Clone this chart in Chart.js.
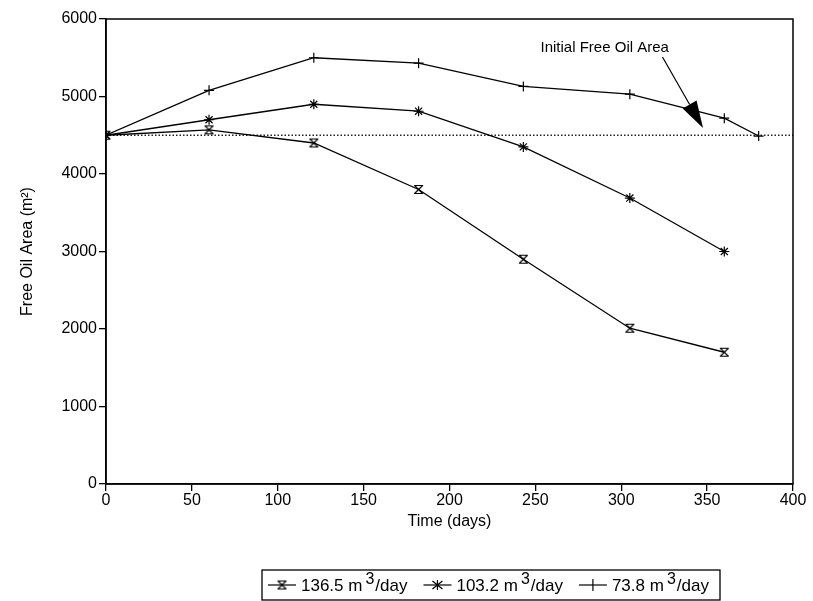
<!DOCTYPE html>
<html>
<head>
<meta charset="utf-8">
<script src="https://cdn.jsdelivr.net/npm/chart.js@4/dist/chart.umd.min.js"></script>
<style>
  html, body { margin: 0; padding: 0; background: #fff; }
  #wrap { width: 813px; height: 601px; }
</style>
</head>
<body>
<div id="wrap"><canvas id="oilChart" width="813" height="601"></canvas></div>
<script>
// data
const days = [0, 60, 121, 182, 243, 305, 360, 380];
const rate136 = [4500, 4570, 4400, 3800, 2900, 2010, 1700];
const rate103 = [4500, 4700, 4900, 4810, 4350, 3690, 3000];
const rate74 = [4500, 5080, 5500, 5430, 5130, 5030, 4720, 4490];
const initialArea = 4500;
const seriesRates = ['136.5', '103.2', '73.8'];
const yTicks = [0, 1000, 2000, 3000, 4000, 5000, 6000];
const xTicks = [0, 50, 100, 150, 200, 250, 300, 350, 400];

const FONT = '"Liberation Sans", Arial, sans-serif';

function pts(vals) {
  return vals.map((v, i) => ({ x: days[i], y: v }));
}

// hourglass marker for the 136.5 series
function hourglass(size) {
  const c = document.createElement('canvas');
  c.width = size; c.height = size;
  const g = c.getContext('2d');
  g.strokeStyle = '#000';
  g.lineWidth = 1.2;
  g.beginPath();
  g.moveTo(1, 1.5); g.lineTo(size - 1, 1.5);
  g.moveTo(1, size - 1.5); g.lineTo(size - 1, size - 1.5);
  g.moveTo(1.5, 1.5); g.lineTo(size - 1.5, size - 1.5);
  g.moveTo(size - 1.5, 1.5); g.lineTo(1.5, size - 1.5);
  g.stroke();
  return c;
}
const hgMarker = hourglass(11);

const pointStyles = [hgMarker, 'star', 'cross'];

const boxPlugin = {
  id: 'box',
  afterDraw(chart) {
    const { ctx, chartArea: a, scales } = chart;
    ctx.save();
    ctx.strokeStyle = '#000';
    ctx.lineWidth = 1.5;
    ctx.strokeRect(a.left, a.top, a.right - a.left, a.bottom - a.top);

    // annotation: Initial Free Oil Area
    const x = scales.x, y = scales.y;
    ctx.fillStyle = '#000';
    ctx.font = '15px ' + FONT;
    ctx.textBaseline = 'alphabetic';
    ctx.fillText('Initial Free Oil Area', x.getPixelForValue(253), y.getPixelForValue(5570));
    const x0 = x.getPixelForValue(324), y0 = y.getPixelForValue(5510);
    const x1 = x.getPixelForValue(347.6), y1 = y.getPixelForValue(4594);
    const ang = Math.atan2(y1 - y0, x1 - x0);
    const hl = 27, hw = 8;
    const bx = x1 - hl * Math.cos(ang), by = y1 - hl * Math.sin(ang);
    ctx.lineWidth = 1.2;
    ctx.beginPath(); ctx.moveTo(x0, y0); ctx.lineTo(bx, by); ctx.stroke();
    ctx.beginPath();
    ctx.moveTo(x1, y1);
    ctx.lineTo(bx + hw * Math.sin(ang), by - hw * Math.cos(ang));
    ctx.lineTo(bx - hw * Math.sin(ang), by + hw * Math.cos(ang));
    ctx.closePath(); ctx.fill();

    // legend box
    const lx = 262, ly = 570, lw = 458, lh = 30;
    ctx.lineWidth = 1.3;
    ctx.strokeRect(lx, ly, lw, lh);
    let cx = lx + 6;
    const cy = ly + 15;
    chart.data.datasets.forEach((ds, i) => {
      if (!ds.inLegend) return;
      ctx.lineWidth = 1.2;
      ctx.beginPath(); ctx.moveTo(cx, cy); ctx.lineTo(cx + 28, cy); ctx.stroke();
      const mx = cx + 14;
      const st = ds.pointStyle;
      if (st === 'cross') {
        ctx.beginPath(); ctx.moveTo(mx, cy - 6); ctx.lineTo(mx, cy + 6); ctx.stroke();
      } else if (st === 'star') {
        ctx.beginPath();
        ctx.moveTo(mx, cy - 5); ctx.lineTo(mx, cy + 5);
        ctx.moveTo(mx - 5, cy - 4); ctx.lineTo(mx + 5, cy + 4);
        ctx.moveTo(mx - 5, cy + 4); ctx.lineTo(mx + 5, cy - 4);
        ctx.stroke();
      } else {
        ctx.drawImage(st, mx - 5.5, cy - 5.5);
      }
      cx += 33;
      ctx.font = '17px ' + FONT;
      const main = ds.rate + ' m';
      ctx.fillText(main, cx, cy + 6);
      cx += ctx.measureText(main).width + 3;
      ctx.font = '16px ' + FONT;
      ctx.fillText('3', cx, cy - 1);
      cx += ctx.measureText('3').width + 1;
      ctx.font = '17px ' + FONT;
      ctx.fillText('/day', cx, cy + 6);
      cx += ctx.measureText('/day').width + 16;
    });
    ctx.restore();
  }
};

const lineDs = [rate136, rate103, rate74].map((vals, i) => ({
  label: seriesRates[i] + ' m3/day',
  rate: seriesRates[i],
  inLegend: true,
  data: pts(vals),
  borderColor: '#000',
  borderWidth: 1.3,
  pointStyle: pointStyles[i],
  pointRadius: 5,
  pointBorderColor: '#000',
  pointBorderWidth: 1.2,
  pointBackgroundColor: '#000',
  fill: false,
  tension: 0
}));

lineDs.push({
  label: 'Initial',
  inLegend: false,
  data: [{ x: 0, y: initialArea }, { x: 400, y: initialArea }],
  borderColor: '#222',
  borderWidth: 1.3,
  borderDash: [1.5, 2],
  pointRadius: 0,
  fill: false
});

new Chart(document.getElementById('oilChart'), {
  type: 'line',
  data: { datasets: lineDs },
  plugins: [boxPlugin],
  options: {
    responsive: false,
    animation: false,
    layout: { padding: { left: 0, right: 20, top: 19, bottom: 66 } },
    plugins: { legend: { display: false }, tooltip: { enabled: false } },
    scales: {
      x: {
        type: 'linear', min: 0, max: 400,
        afterBuildTicks: s => { s.ticks = xTicks.map(v => ({ value: v })); },
        afterFit: s => { s.height = 51; },
        grid: { drawOnChartArea: false, tickLength: 7, color: '#000', lineWidth: 1.3 },
        border: { color: '#000', width: 1.5 },
        ticks: { color: '#000', font: { family: FONT, size: 16 }, padding: 0, maxRotation: 0, callback: v => String(v) },
        title: { display: true, text: 'Time (days)', color: '#000', font: { family: FONT, size: 16 }, padding: { top: 0 } }
      },
      y: {
        min: 0, max: 6000,
        afterBuildTicks: s => { s.ticks = yTicks.map(v => ({ value: v })); },
        afterFit: s => { s.width = 106; },
        grid: { drawOnChartArea: false, tickLength: 7, color: '#000', lineWidth: 1.3 },
        border: { color: '#000', width: 1.5 },
        ticks: { color: '#000', font: { family: FONT, size: 16 }, padding: 2, callback: v => String(v) },
        title: { display: true, text: 'Free Oil Area (m²)', color: '#000', font: { family: FONT, size: 16 }, padding: { top: 18, bottom: 0 } }
      }
    }
  }
});
</script>
</body>
</html>
